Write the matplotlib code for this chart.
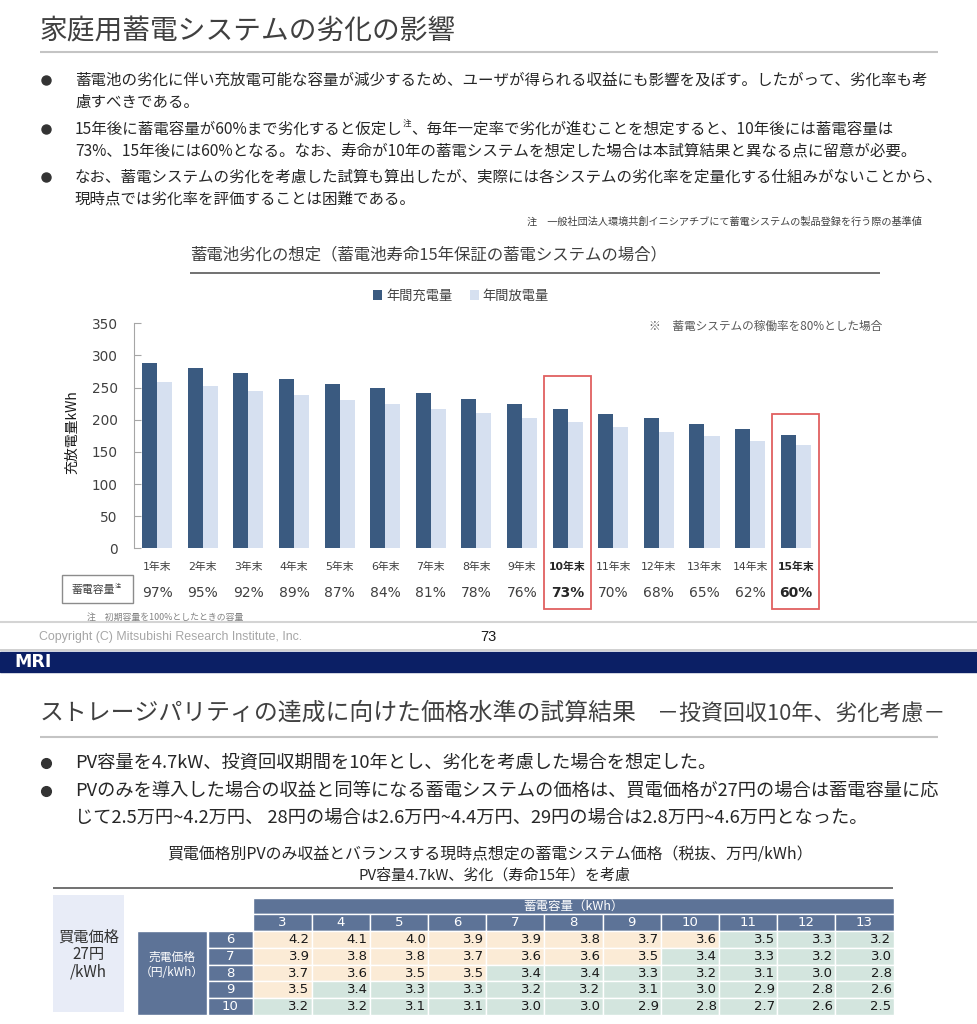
import matplotlib
matplotlib.use('Agg')
import matplotlib.pyplot as plt
from matplotlib.patches import Rectangle
from matplotlib import transforms
import numpy as np

plt.rcParams['font.family'] = ['Noto Sans CJK JP', 'DejaVu Sans']

# ---- slide 1: degradation chart data
years = ['1年末', '2年末', '3年末', '4年末', '5年末', '6年末', '7年末', '8年末',
         '9年末', '10年末', '11年末', '12年末', '13年末', '14年末', '15年末']
charge = [288, 280, 272, 264, 256, 249, 241, 233, 225, 217, 209, 202, 193, 185, 177]
discharge = [259, 252, 245, 238, 231, 224, 216, 210, 202, 196, 189, 181, 174, 167, 160]
capacity = [97, 95, 92, 89, 87, 84, 81, 78, 76, 73, 70, 68, 65, 62, 60]
highlight = [9, 14]
box_top = [268, 209]

title1 = '家庭用蓄電システムの劣化の影響'
bullets1 = [
    ['蓄電池の劣化に伴い充放電可能な容量が減少するため、ユーザが得られる収益にも影響を及ぼす。したがって、劣化率も考',
     '慮すべきである。'],
    [['15年後に蓄電容量が60%まで劣化すると仮定し', '注', '、毎年一定率で劣化が進むことを想定すると、10年後には蓄電容量は'],
     '73%、15年後には60%となる。なお、寿命が10年の蓄電システムを想定した場合は本試算結果と異なる点に留意が必要。'],
    ['なお、蓄電システムの劣化を考慮した試算も算出したが、実際には各システムの劣化率を定量化する仕組みがないことから、',
     '現時点では劣化率を評価することは困難である。'],
]
note1 = '注　一般社団法人環境共創イニシアチブにて蓄電システムの製品登録を行う際の基準値'
chart_title = '蓄電池劣化の想定（蓄電池寿命15年保証の蓄電システムの場合）'
chart_note = '※　蓄電システムの稼働率を80%とした場合'
ylabel = '充放電量kWh'
cap_label = '蓄電容量'
cap_note = '注　初期容量を100%としたときの容量'
copyright_txt = 'Copyright (C) Mitsubishi Research Institute, Inc.'
page_no = '73'

# ---- slide 2: price table data
title2 = 'ストレージパリティの達成に向けた価格水準の試算結果'
subtitle2 = '－投資回収10年、劣化考慮－'
bullets2 = [
    ['PV容量を4.7kW、投資回収期間を10年とし、劣化を考慮した場合を想定した。'],
    ['PVのみを導入した場合の収益と同等になる蓄電システムの価格は、買電価格が27円の場合は蓄電容量に応',
     'じて2.5万円~4.2万円、 28円の場合は2.6万円~4.4万円、29円の場合は2.8万円~4.6万円となった。'],
]
table_title = '買電価格別PVのみ収益とバランスする現時点想定の蓄電システム価格（税抜、万円/kWh）'
table_sub = 'PV容量4.7kW、劣化（寿命15年）を考慮'
buy_label = ['買電価格', '27円', '/kWh']
col_header = '蓄電容量（kWh）'
row_header = ['売電価格', '（円/kWh）']
storage_kwh = [3, 4, 5, 6, 7, 8, 9, 10, 11, 12, 13]
sell_price = [6, 7, 8, 9, 10]
prices = [
    [4.2, 4.1, 4.0, 3.9, 3.9, 3.8, 3.7, 3.6, 3.5, 3.3, 3.2],
    [3.9, 3.8, 3.8, 3.7, 3.6, 3.6, 3.5, 3.4, 3.3, 3.2, 3.0],
    [3.7, 3.6, 3.5, 3.5, 3.4, 3.4, 3.3, 3.2, 3.1, 3.0, 2.8],
    [3.5, 3.4, 3.3, 3.3, 3.2, 3.2, 3.1, 3.0, 2.9, 2.8, 2.6],
    [3.2, 3.2, 3.1, 3.1, 3.0, 3.0, 2.9, 2.8, 2.7, 2.6, 2.5],
]
cream_count = [8, 7, 4, 1, 0]

dark = '#3a5a80'
light = '#d6e0f0'
head = '#5d7397'
cream = '#fbebd6'
mint = '#d3e5de'
txt = '#262626'
num_font = ['DejaVu Sans', 'Noto Sans CJK JP']

W, H = 978, 1024
fig = plt.figure(figsize=(9.78, 10.24), dpi=100)
ax0 = fig.add_axes([0, 0, 1, 1])
ax0.set_xlim(0, W)
ax0.set_ylim(H, 0)
ax0.axis('off')
renderer = fig.canvas.get_renderer()


def fit(x, y, s, width, ha='left', **kw):
    t = ax0.text(x, y, s, fontsize=10, ha=ha, va='center', **kw)
    w = t.get_window_extent(renderer).width
    t.set_fontsize(10 * width / w)
    return t


def runs(x, y, parts, size, color):
    for i, s in enumerate(parts):
        sup = i % 2 == 1
        t = ax0.text(x, y - (size * 0.45 if sup else 0), s,
                     fontsize=size * (0.55 if sup else 1), va='center', color=color)
        x += t.get_window_extent(renderer).width


def hline(y, x1, x2, color, lw):
    ax0.plot([x1, x2], [y, y], color=color, lw=lw, solid_capstyle='butt')


# ================= slide 1 =================
fit(40, 32, title1, 415, color='#404040')
hline(52, 40, 938, '#c4c4c4', 1.5)

first = fit(75, 80, bullets1[0][0], 852, color=txt)
bsize = first.get_fontsize()
first.remove()
ys = [[80, 102], [129, 151], [177, 199]]
for lines, yy in zip(bullets1, ys):
    ax0.plot(46, yy[0], 'o', ms=6.5, color='#333333')
    for line, y in zip(lines, yy):
        if isinstance(line, list):
            runs(75, y, line, bsize, txt)
        else:
            ax0.text(75, y, line, fontsize=bsize, va='center', color=txt)

fit(922, 222, note1, 395, ha='right', color='#404040')

fit(190, 255, chart_title, 478, color='#404040')
hline(273, 190, 880, '#595959', 1.2)
fit(649, 326, chart_note, 234, color='#595959')

# bar axes, placed in pixel box
L, R, T, B = 134.3, 818.5, 323.3, 548.3
ax = fig.add_axes([L / W, 1 - B / H, (R - L) / W, (B - T) / H])
x = np.arange(len(years))
bw = 0.33
ax.bar(x - bw / 2, charge, bw, color=dark, label='年間充電量')
ax.bar(x + bw / 2, discharge, bw, color=light, label='年間放電量')
ax.set_xlim(-0.5, len(years) - 0.5)
ax.set_ylim(0, 350)
ax.set_yticks(range(0, 351, 50))
ax.set_xticks([])
for s in ['top', 'right', 'bottom']:
    ax.spines[s].set_visible(False)
ax.spines['left'].set_color('#a6a6a6')
ax.tick_params(axis='y', direction='in', length=5, color='#a6a6a6', pad=12,
               labelsize=9.8, labelcolor='#404040')
for lab in ax.get_yticklabels():
    lab.set_family(num_font)
ax.patch.set_alpha(0)
leg = ax.legend(loc='center', bbox_to_anchor=(461 / W, 1 - 296 / H), bbox_transform=fig.transFigure,
                ncol=2, frameon=False, fontsize=9.5, handlelength=0.7, handleheight=0.7,
                handletextpad=0.3, columnspacing=1.3)
for tx in leg.get_texts():
    tx.set_color('#404040')

ax0.text(72, 432, ylabel, rotation=90, fontsize=10, ha='center', va='center', color='#1a1a1a')

blend = transforms.blended_transform_factory(ax.transData, ax0.transData)
for i in range(len(years)):
    hi = i in highlight
    ax0.text(i, 566.7, years[i], transform=blend, ha='center', va='center', fontsize=7.8,
             family=num_font, fontweight='bold' if hi else 'normal',
             color='#262626' if hi else '#404040')
    ax0.text(i, 593.3, f'{capacity[i]}%', transform=blend, ha='center', va='center', fontsize=10,
             family=num_font, fontweight='bold' if hi else 'normal',
             color='#262626' if hi else '#404040')

lo = -(609 - B) * 350 / (B - T)
for i, top in zip(highlight, box_top):
    ax.add_patch(Rectangle((i - 0.52, lo), 1.04, top - lo, fill=False, ec='#e06060', lw=1.3,
                           clip_on=False))

ax0.add_patch(Rectangle((62, 575), 71.3, 28.3, fill=False, ec='#8c8c8c', lw=1))
runs(71.5, 590, [cap_label, '注'], 7.8, '#404040')
fit(87, 617, cap_note, 156, color='#808080')

hline(622, 0, W, '#d4d4d4', 1.5)
fit(39.3, 636.7, copyright_txt, 264, family='Liberation Sans', color='#a6a6a6')
ax0.text(488.5, 636.7, page_no, fontsize=10.5, ha='center', va='center', family='Liberation Sans',
         color='#1a1a1a')

# footer band
hline(649.8, 0, W, '#c8c8c8', 1.2)
ax0.add_patch(Rectangle((0, 651.7), W, 20.6, color='#0b1f65'))
fit(14, 662.3, 'MRI', 37, family='DejaVu Sans', fontweight='bold', color='white')

# ================= slide 2 =================
fit(40, 713, title2, 596, color='#404040')
fit(657, 715, subtitle2, 288, color='#404040')
hline(737, 40, 938, '#c4c4c4', 1.5)

first = fit(75, 791, bullets2[1][0], 862, color=txt)
b2size = first.get_fontsize()
first.remove()
ys2 = [[763], [791, 818]]
for lines, yy in zip(bullets2, ys2):
    ax0.plot(46, yy[0], 'o', ms=7, color='#333333')
    for line, y in zip(lines, yy):
        ax0.text(75, y, line, fontsize=b2size, va='center', color=txt)

fit(489.5, 855, table_title, 647, ha='center', color='#262626')
fit(494.5, 875, table_sub, 271, ha='center', color='#262626')
hline(888, 53, 893, '#595959', 1.2)

# left info box
ax0.add_patch(Rectangle((53.3, 895), 71, 116.7, color='#e8ecf7', lw=0))
for s, y in zip(buy_label, [937, 955, 972]):
    ax0.text(88.8, y, s, fontsize=11, ha='center', va='center', color='#333333')

tab_left, col_w, row_h = 253.3, 58.2, 16.75
head_top = 897.7
body_top = head_top + 2 * row_h
ncol = len(storage_kwh)
ax0.add_patch(Rectangle((tab_left, head_top), ncol * col_w, row_h, fc=head, ec='white', lw=1))
ax0.text(tab_left + ncol * col_w / 2, head_top + row_h / 2, col_header, fontsize=9,
         ha='center', va='center', color='white')
for c, k in enumerate(storage_kwh):
    x0 = tab_left + c * col_w
    ax0.add_patch(Rectangle((x0, head_top + row_h), col_w, row_h, fc=head, ec='white', lw=1))
    ax0.text(x0 + col_w / 2, head_top + 1.5 * row_h, str(k), fontsize=9.5, ha='center', va='center',
             family=num_font, color='white')

nrow = len(sell_price)
ax0.add_patch(Rectangle((136.7, body_top), 70.5, nrow * row_h, fc=head, ec='white', lw=1))
ax0.text(172, 957, row_header[0], fontsize=8.5, ha='center', va='center', color='white')
ax0.text(172, 973, row_header[1], fontsize=8.5, ha='center', va='center', color='white')
for r, p in enumerate(sell_price):
    y0 = body_top + r * row_h
    ax0.add_patch(Rectangle((207.5, y0), tab_left - 207.5, row_h, fc=head, ec='white', lw=1))
    ax0.text((207.5 + tab_left) / 2, y0 + row_h / 2, str(p), fontsize=9.5, ha='center',
             va='center', family=num_font, color='white')
    for c, v in enumerate(prices[r]):
        x0 = tab_left + c * col_w
        fc = cream if c < cream_count[r] else mint
        ax0.add_patch(Rectangle((x0, y0), col_w, row_h, fc=fc, ec='white', lw=1))
        ax0.text(x0 + col_w - 2, y0 + row_h / 2, f'{v:.1f}', fontsize=9.5, ha='right',
                 va='center', family=num_font, color='#1a1a1a')

fig.savefig('out.png', dpi=100)
